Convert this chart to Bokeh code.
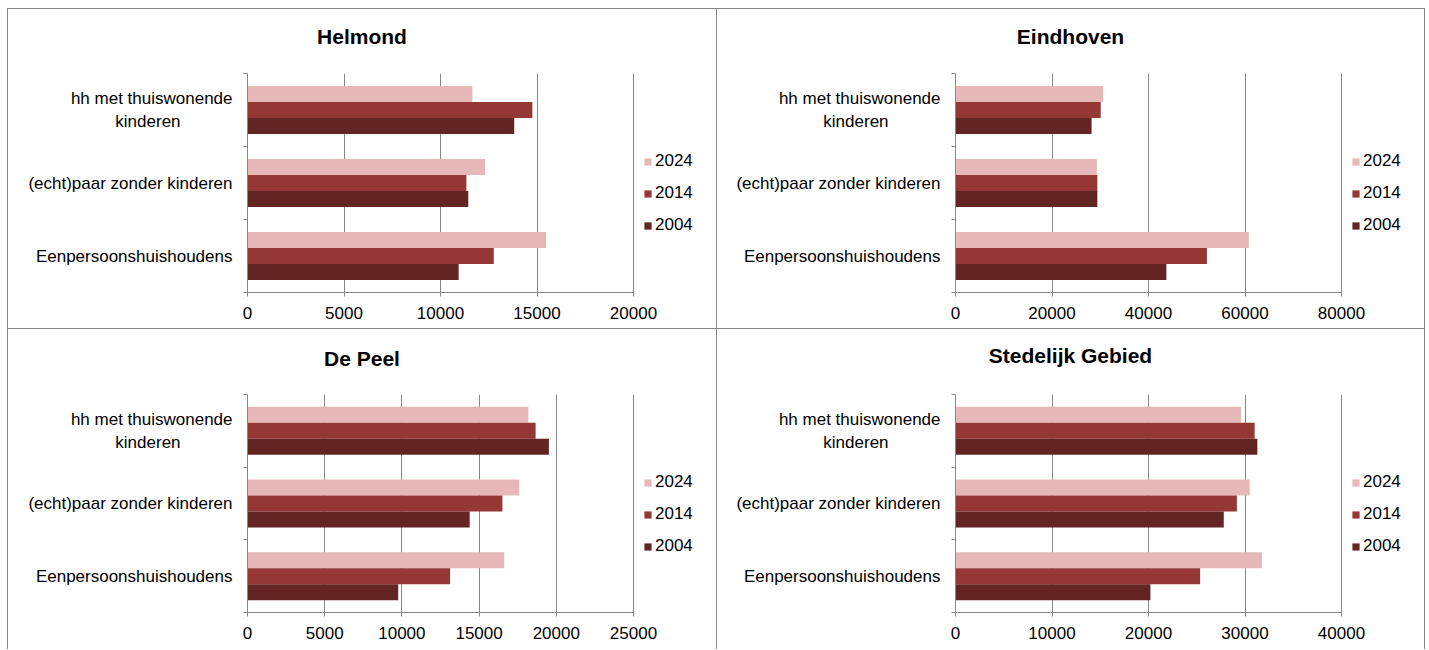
from bokeh.plotting import figure
from bokeh.models import (FactorRange, Range1d, LinearAxis, CategoricalAxis, FixedTicker,
                          Legend, LegendItem, ColumnDataSource, Div)
from bokeh.transform import dodge
from bokeh.layouts import column, row
from bokeh.embed import file_html
from bokeh.resources import INLINE

# ---------------- data ----------------
NBSP = "\u00a0"
categories = ["Eenpersoonshuishoudens", "(echt)paar zonder kinderen",
              "hh met thuiswonende\nkinderen" + NBSP * 11]
years = ["2024", "2014", "2004"]
year_colors = ["#E6B9B8", "#953735", "#632523"]

titles = ["Helmond", "Eindhoven", "De Peel", "Stedelijk Gebied"]

helmond_2024 = [15470, 12310, 11650]
helmond_2014 = [12760, 11340, 14760]
helmond_2004 = [10940, 11440, 13820]

eindhoven_2024 = [60800, 29300, 30600]
eindhoven_2014 = [52100, 29400, 30100]
eindhoven_2004 = [43700, 29400, 28200]

depeel_2024 = [16630, 17600, 18190]
depeel_2014 = [13120, 16510, 18660]
depeel_2004 = [9760, 14390, 19520]

stedelijk_2024 = [31750, 30480, 29590]
stedelijk_2014 = [25350, 29160, 31000]
stedelijk_2004 = [20200, 27800, 31280]

helmond_ticks = [0, 5000, 10000, 15000, 20000]
eindhoven_ticks = [0, 20000, 40000, 60000, 80000]
depeel_ticks = [0, 5000, 10000, 15000, 20000, 25000]
stedelijk_ticks = [0, 10000, 20000, 30000, 40000]

# ---------------- layout constants ----------------
GRAY = "#878787"
FONT = "Liberation Sans"
PW_LEFT, PW_RIGHT = 708, 707   # panel widths
MR = 4                         # space right of the plot area
DW = 386                       # pixel width of the value axis (0 .. last tick)


def make_panel(title, v2024, v2014, v2004, ticks, pw, ml, total_h, title_h,
               frame_top, frame_h, legend_y):
    fw = pw - ml - MR
    head = Div(text=title, width=pw, height=title_h, margin=0,
               styles={"font-family": FONT, "font-size": "21px", "font-weight": "bold",
                       "text-align": "center", "line-height": f"{title_h}px",
                       "color": "black", "background-color": "white"})
    fig_h = total_h - title_h
    mt = frame_top - title_h
    mb = fig_h - mt - frame_h
    p = figure(
        y_range=FactorRange(factors=categories),
        x_range=Range1d(ticks[0], ticks[-1] * fw / DW),
        width=pw, height=fig_h,
        min_border_left=ml, min_border_right=MR,
        min_border_top=mt, min_border_bottom=mb,
        output_backend="svg", toolbar_location=None, title=None,
        y_axis_location=None,
    )
    p.outline_line_color = None
    p.background_fill_color = "white"
    p.border_fill_color = "white"

    # bars
    offsets = [0.22, 0.0, -0.22]
    renderers = []
    for vals, off, col in zip([v2024, v2014, v2004], offsets, year_colors):
        src = ColumnDataSource(dict(cat=categories, val=vals))
        r = p.hbar(y=dodge("cat", off, range=p.y_range), right="val", left=0,
                   height=0.22, source=src, fill_color=col, line_color=None)
        renderers.append(r)

    # x axis / grid
    xa = p.xaxis[0]
    xa.ticker = FixedTicker(ticks=ticks)
    xa.bounds = (ticks[0], ticks[-1])
    xa.major_tick_in = 0
    xa.major_tick_out = 4
    xa.minor_tick_line_color = None
    xa.axis_line_color = GRAY
    xa.major_tick_line_color = GRAY
    xa.major_label_standoff = 10
    xa.major_label_text_font = FONT
    xa.major_label_text_font_size = "17px"
    xa.major_label_text_color = "black"
    p.xgrid.ticker = FixedTicker(ticks=ticks)
    p.xgrid.grid_line_color = GRAY
    p.ygrid.grid_line_color = None

    # y axis: tick marks at the category boundaries (synthetic coordinates 0..3)
    nb = len(categories) + 1
    ta = LinearAxis(ticker=FixedTicker(ticks=list(range(nb))),
                    major_label_overrides={i: "" for i in range(nb)},
                    major_label_text_font_size="0px", major_label_standoff=0,
                    major_tick_in=0, major_tick_out=4, minor_tick_line_color=None,
                    axis_line_color=GRAY, major_tick_line_color=GRAY)
    p.add_layout(ta, "left")
    ca = CategoricalAxis(axis_line_color=None, major_tick_line_color=None,
                         major_tick_in=0, major_tick_out=0,
                         major_label_standoff=11,
                         major_label_text_font=FONT, major_label_text_font_size="17px",
                         major_label_text_color="black")
    p.add_layout(ca, "left")

    # legend (to the right of the value axis)
    legend = Legend(items=[LegendItem(label=y, renderers=[r]) for y, r in zip(years, renderers)],
                    location=(DW + 10, legend_y), glyph_width=9, glyph_height=9,
                    label_height=20, spacing=12, padding=0, margin=0, label_standoff=3,
                    border_line_color=None, background_fill_alpha=0,
                    label_text_font=FONT, label_text_font_size="17px",
                    label_text_color="black")
    p.add_layout(legend, "center")

    return column(head, p, margin=0)


def vline(h):
    return Div(text="", width=1, height=h, margin=0, styles={"background-color": GRAY})


def hline(w):
    return Div(text="", width=w, height=1, margin=0, styles={"background-color": GRAY})


TOP_H = 319
BOT_H = 320

p1 = make_panel(titles[0], helmond_2024, helmond_2014, helmond_2004, helmond_ticks,
                PW_LEFT, 239, TOP_H, 55, 64, 219, 57)
p2 = make_panel(titles[1], eindhoven_2024, eindhoven_2014, eindhoven_2004, eindhoven_ticks,
                PW_RIGHT, 238, TOP_H, 55, 64, 219, 57)
p3 = make_panel(titles[2], depeel_2024, depeel_2014, depeel_2004, depeel_ticks,
                PW_LEFT, 239, BOT_H, 60, 65, 218, 56)
p4 = make_panel(titles[3], stedelijk_2024, stedelijk_2014, stedelijk_2004, stedelijk_ticks,
                PW_RIGHT, 238, BOT_H, 53, 65, 218, 56)

TOTAL_W = 3 + PW_LEFT + PW_RIGHT
layout = column(
    hline(TOTAL_W),
    row(vline(TOP_H), p1, vline(TOP_H), p2, vline(TOP_H), margin=0),
    hline(TOTAL_W),
    row(vline(BOT_H), p3, vline(BOT_H), p4, vline(BOT_H), margin=0),
    margin=(8, 0, 0, 7),
)

open("out.html", "w").write(file_html(layout, INLINE))
